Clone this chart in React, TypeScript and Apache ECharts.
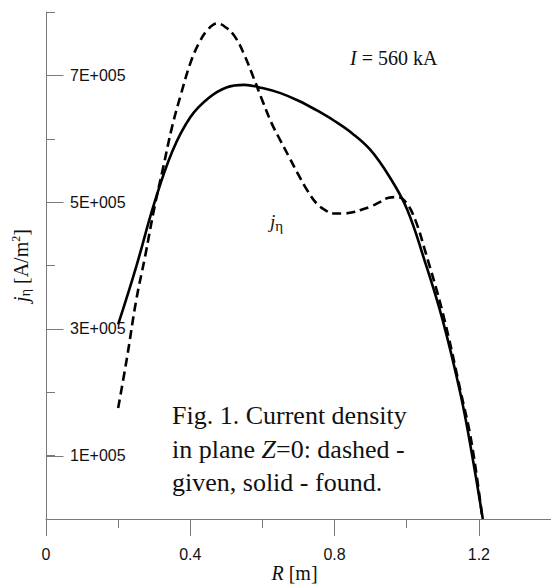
import React, { useEffect, useRef } from "react";
import * as echarts from "echarts";

// Radius R [m]
const R_SOLID = [0.2, 0.25, 0.3, 0.35, 0.4, 0.45, 0.5, 0.55, 0.6, 0.65, 0.7, 0.75, 0.8, 0.85, 0.9, 0.95, 1.0, 1.05, 1.1, 1.15, 1.18, 1.211];
// j_eta found [A/m^2]
const J_SOLID = [3.07e5, 3.98e5, 4.98e5, 5.8e5, 6.34e5, 6.64e5, 6.81e5, 6.85e5, 6.8e5, 6.72e5, 6.6e5, 6.45e5, 6.28e5, 6.08e5, 5.82e5, 5.42e5, 4.9e5, 4.07e5, 3.13e5, 1.95e5, 1.05e5, 0];

const R_DASHED = [0.2, 0.225, 0.25, 0.275, 0.3, 0.325, 0.35, 0.375, 0.4, 0.425, 0.45, 0.475, 0.5, 0.525, 0.55, 0.575, 0.6, 0.625, 0.65, 0.675, 0.7, 0.725, 0.75, 0.775, 0.8, 0.825, 0.85, 0.875, 0.9, 0.925, 0.95, 0.975, 1.0, 1.025, 1.05, 1.1, 1.15, 1.18, 1.21];
// j_eta given [A/m^2]
const J_DASHED = [1.75e5, 2.56e5, 3.45e5, 4.15e5, 4.9e5, 5.55e5, 6.2e5, 6.72e5, 7.19e5, 7.52e5, 7.73e5, 7.82e5, 7.75e5, 7.6e5, 7.32e5, 6.97e5, 6.6e5, 6.25e5, 5.97e5, 5.7e5, 5.43e5, 5.18e5, 4.98e5, 4.87e5, 4.82e5, 4.82e5, 4.84e5, 4.88e5, 4.93e5, 5.0e5, 5.07e5, 5.08e5, 4.98e5, 4.7e5, 4.25e5, 3.25e5, 2.0e5, 1.2e5, 0];

const X_TICK_VALUES = [0, 0.4, 0.8, 1.2];
const X_TICK_LABELS = ["0", "0.4", "0.8", "1.2"];
const Y_TICK_VALUES = [1e5, 3e5, 5e5, 7e5];
const Y_TICK_LABELS = ["1E+005", "3E+005", "5E+005", "7E+005"];

const SERIF = '"Liberation Serif", "Times New Roman", serif';
const SANS = '"Liberation Sans", Arial, sans-serif';
const AXIS_COLOR = "#7a7a7a";
const TEXT_COLOR = "#111";

function findLabel(values: number[], labels: string[], v: number): string {
  for (let i = 0; i < values.length; i++) {
    if (Math.abs(values[i] - v) < 1e-6 * Math.max(1, Math.abs(v))) return labels[i];
  }
  return "";
}

export default function App() {
  const ref = useRef<HTMLDivElement>(null);
  useEffect(() => {
    if (!ref.current) return;
    const chart = echarts.init(ref.current, null, { renderer: "svg" });
    const solid = R_SOLID.map((r, i) => [r, J_SOLID[i]]);
    const dashed = R_DASHED.map((r, i) => [r, J_DASHED[i]]);
    chart.setOption({
      animation: false,
      backgroundColor: "#ffffff",
      grid: { left: 46, right: 0, top: 12, bottom: 67, containLabel: false, outerBoundsMode: "none" },
      xAxis: [
        {
          type: "value",
          min: 0,
          max: 1.4,
          interval: 0.2,
          position: "bottom",
          axisLine: { show: true, onZero: false, lineStyle: { color: AXIS_COLOR, width: 1 } },
          axisTick: { show: true, length: 9, lineStyle: { color: AXIS_COLOR } },
          splitLine: { show: false },
          axisLabel: {
            show: true,
            margin: 27,
            color: TEXT_COLOR,
            fontFamily: SANS,
            fontSize: 16,
            showMaxLabel: false,
            formatter: (v: number) => findLabel(X_TICK_VALUES, X_TICK_LABELS, v),
          },
          name: "{i|R} [m]",
          nameLocation: "middle",
          nameGap: 44,
          nameMoveOverlap: false,
          nameTextStyle: {
            fontFamily: SERIF,
            fontSize: 20,
            color: TEXT_COLOR,
            padding: [0, 8, 0, 0],
            rich: {
              i: { fontFamily: SERIF, fontSize: 20, fontStyle: "italic", color: TEXT_COLOR },
            },
          },
        },
        {
          type: "value",
          min: 0,
          max: 1.4,
          interval: 0.4,
          position: "bottom",
          axisLine: { show: false, onZero: false },
          axisTick: { show: true, length: 17, lineStyle: { color: AXIS_COLOR } },
          splitLine: { show: false },
          axisLabel: { show: false },
        },
      ],
      yAxis: [
        {
          type: "value",
          min: 0,
          max: 8e5,
          interval: 1e5,
          position: "left",
          axisLine: { show: true, onZero: false, lineStyle: { color: AXIS_COLOR, width: 1 } },
          axisTick: { show: true, inside: true, length: 9, lineStyle: { color: AXIS_COLOR } },
          splitLine: { show: false },
          axisLabel: {
            show: true,
            inside: true,
            margin: 24,
            color: TEXT_COLOR,
            fontFamily: SANS,
            fontSize: 16,
            formatter: (v: number) => findLabel(Y_TICK_VALUES, Y_TICK_LABELS, v),
          },
          name: "{j|j}{s|η} [A/m{p|2}]",
          nameLocation: "middle",
          nameRotate: 90,
          nameGap: 14,
          nameMoveOverlap: false,
          nameTextStyle: {
            fontFamily: SERIF,
            fontSize: 20,
            color: TEXT_COLOR,
            rich: {
              j: { fontFamily: SERIF, fontSize: 20, fontStyle: "italic", color: TEXT_COLOR },
              s: { fontFamily: SERIF, fontSize: 14, color: TEXT_COLOR, padding: [9, 0, 0, 0] },
              p: { fontFamily: SERIF, fontSize: 12, color: TEXT_COLOR, padding: [0, 0, 9, 0] },
            },
          },
        },
      ],
      series: [
        {
          type: "custom",
          name: "major y ticks",
          xAxisIndex: 0,
          yAxisIndex: 0,
          silent: true,
          clip: false,
          data: Y_TICK_VALUES.map((v) => [0, v]),
          renderItem: (_params: any, api: any) => {
            const p = api.coord([0, api.value(1)]);
            const x = Math.round(p[0]) + 0.5;
            const y = Math.round(p[1]) + 0.5;
            return {
              type: "line",
              shape: { x1: x, y1: y, x2: x + 17, y2: y },
              style: { stroke: AXIS_COLOR, lineWidth: 1 },
            };
          },
        },
        {
          type: "line",
          name: "found",
          xAxisIndex: 0,
          yAxisIndex: 0,
          data: solid,
          smooth: 0.4,
          showSymbol: false,
          symbol: "none",
          lineStyle: { color: "#000", width: 2.6, type: "solid" },
        },
        {
          type: "line",
          name: "given",
          xAxisIndex: 0,
          yAxisIndex: 0,
          data: dashed,
          smooth: 0.4,
          showSymbol: false,
          symbol: "none",
          lineStyle: { color: "#000", width: 2.6, type: [9, 5] },
        },
      ],
      graphic: [
        {
          type: "text",
          left: 350,
          top: 48,
          style: {
            text: "{i|I} = 560 kA",
            fontFamily: SERIF,
            fontSize: 20,
            fill: TEXT_COLOR,
            rich: {
              i: { fontFamily: SERIF, fontSize: 20, fontStyle: "italic", fill: TEXT_COLOR },
            },
          },
        },
        {
          type: "text",
          left: 270,
          top: 212,
          style: {
            text: "{j|j}{s|η}",
            fontFamily: SERIF,
            fontSize: 19,
            fill: TEXT_COLOR,
            rich: {
              j: { fontFamily: SERIF, fontSize: 19, fontStyle: "italic", fill: TEXT_COLOR },
              s: { fontFamily: SERIF, fontSize: 15, fill: TEXT_COLOR, padding: [8, 0, 0, 0] },
            },
          },
        },
        {
          type: "text",
          left: 172,
          top: 399,
          style: {
            text: "Fig. 1. Current density\nin plane {i|Z}=0: dashed -\ngiven, solid - found.",
            fontFamily: SERIF,
            fontSize: 26,
            lineHeight: 33.5,
            fill: TEXT_COLOR,
            rich: {
              i: { fontFamily: SERIF, fontSize: 26, fontStyle: "italic", fill: TEXT_COLOR, lineHeight: 33.5 },
            },
          },
        },
      ],
    });
    return () => chart.dispose();
  }, []);
  return (
    <div
      ref={ref}
      style={{ position: "fixed", left: 0, top: 0, width: 551, height: 586, background: "#fff" }}
    />
  );
}
